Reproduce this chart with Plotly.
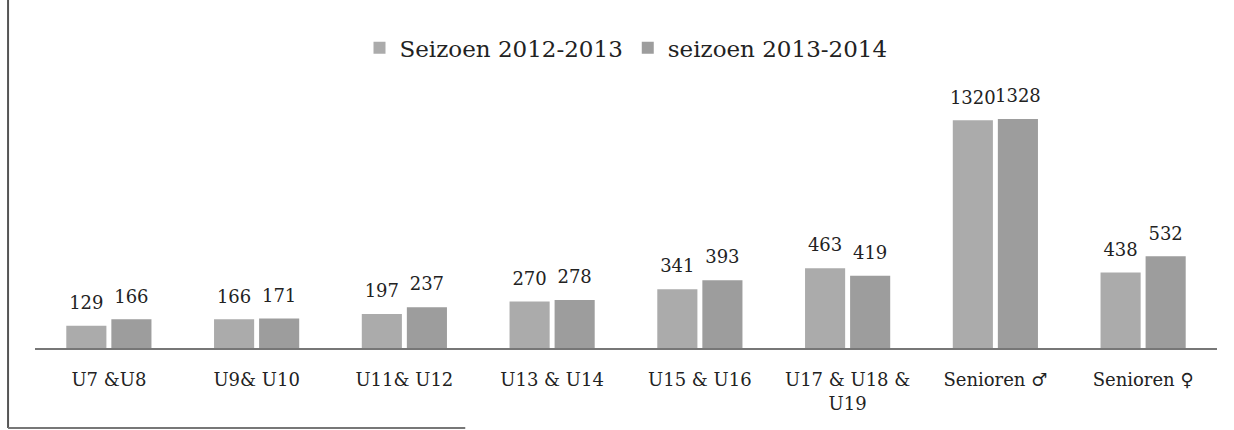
import plotly.graph_objects as go

categories = ["U7 &U8", "U9& U10", "U11& U12", "U13 & U14", "U15 & U16",
              "U17 & U18 &<br>U19", "Senioren ♂", "Senioren ♀"]
series_names = ["Seizoen 2012-2013", "seizoen 2013-2014"]
season_2012_2013 = [129, 166, 197, 270, 341, 463, 1320, 438]
season_2013_2014 = [166, 171, 237, 278, 393, 419, 1328, 532]
bar_colors = ["#ababab", "#9d9d9d"]

FONT = "DejaVu Serif"
series = [season_2012_2013, season_2013_2014]

fig = go.Figure()
for i, (name, vals, col) in enumerate(zip(series_names, series, bar_colors)):
    fig.add_trace(go.Bar(
        x=categories, y=vals, name=name, offsetgroup=str(i),
        marker=dict(color=col, line=dict(width=0)),
        hoverinfo="x+y",
    ))
for i, vals in enumerate(series):
    fig.add_trace(go.Scatter(
        x=categories, y=vals, mode="markers+text", text=vals,
        textposition="top center", offsetgroup=str(i),
        marker=dict(size=18, opacity=0), showlegend=False,
        hoverinfo="skip", cliponaxis=False,
        textfont=dict(family=FONT, size=18, color="#222222"),
    ))

fig.update_layout(
    width=1234, height=430,
    margin=dict(l=35, r=17, t=100, b=82),
    paper_bgcolor="white", plot_bgcolor="white",
    barmode="group", bargap=0.39, bargroupgap=0.11,
    scattermode="group", scattergap=0.39,
    font=dict(family=FONT, color="#222222"),
    showlegend=True,
    legend=dict(orientation="h", x=0.5, xanchor="center", y=1.21, yanchor="middle",
                font=dict(family=FONT, size=23, color="#222222"),
                itemwidth=30, tracegroupgap=0),
    xaxis=dict(showgrid=False, showline=True, linecolor="#777777", linewidth=1.5,
               ticks="outside", ticklen=15, tickcolor="rgba(0,0,0,0)",
               tickfont=dict(family=FONT, size=18, color="#222222"),
               zeroline=False),
    yaxis=dict(visible=False, range=[0, 1438], showgrid=False, zeroline=False),
    shapes=[
        dict(type="line", xref="paper", yref="paper",
             x0=-0.0228, x1=-0.0228, y0=1.403, y1=-0.3226,
             line=dict(color="#555555", width=2)),
        dict(type="line", xref="paper", yref="paper",
             x0=-0.0228, x1=0.364, y0=-0.3226, y1=-0.3226,
             line=dict(color="#777777", width=2)),
    ],
)

fig.write_html("out.html", config={"displayModeBar": False},
               post_script="document.body.style.margin='0';")
